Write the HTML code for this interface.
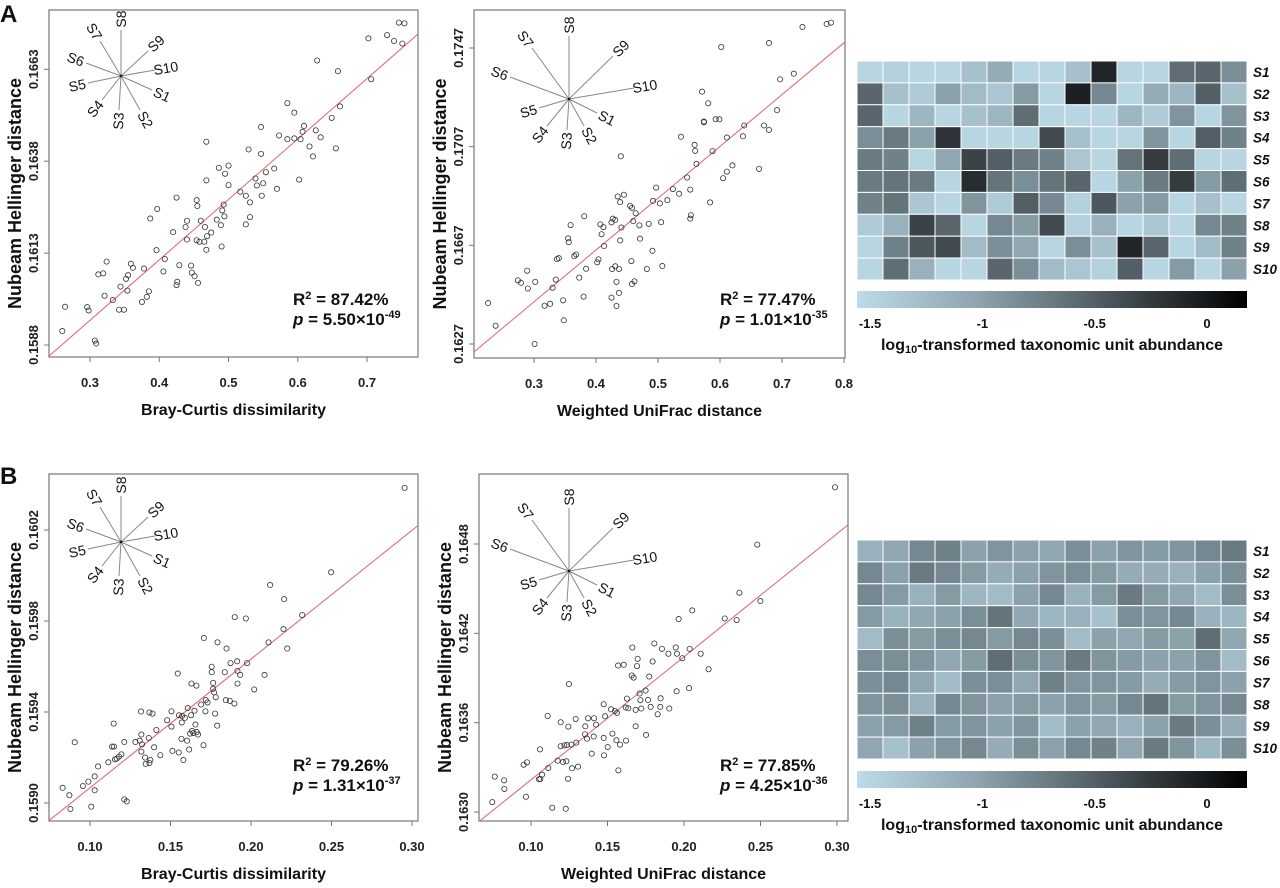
<!DOCTYPE html>
<html><head><meta charset="utf-8">
<style>
html,body{margin:0;padding:0;background:#fff;}
svg{display:block;font-family:"Liberation Sans",Arial,sans-serif;}
</style></head>
<body>
<svg id="fig" width="1280" height="888" viewBox="0 0 1280 888" xmlns="http://www.w3.org/2000/svg"></svg>
<script>
// ---------- DATA ----------
const a1X=[0.746,0.754,0.729,0.702,0.739,0.751,0.628,0.658,0.706,0.585,0.661,0.595,0.649,0.547,0.609,0.607,0.626,0.573,0.633,0.585,0.595,0.604,0.468,0.617,0.529,0.655,0.622,0.547,0.486,0.500,0.495,0.566,0.554,0.539,0.468,0.602,0.500,0.550,0.541,0.570,0.517,0.525,0.548,0.425,0.454,0.531,0.455,0.493,0.397,0.491,0.387,0.494,0.483,0.440,0.460,0.531,0.438,0.466,0.489,0.525,0.420,0.475,0.469,0.440,0.454,0.458,0.465,0.468,0.490,0.396,0.408,0.324,0.359,0.362,0.378,0.429,0.446,0.406,0.312,0.319,0.355,0.352,0.447,0.451,0.426,0.425,0.456,0.344,0.354,0.385,0.321,0.333,0.382,0.375,0.264,0.296,0.298,0.342,0.349,0.260,0.307,0.309];
const a1Y=[0.16757,0.16755,0.16723,0.16714,0.16707,0.16700,0.16654,0.16625,0.16603,0.16538,0.16529,0.16512,0.16498,0.16473,0.16476,0.16460,0.16464,0.16450,0.16445,0.16440,0.16442,0.16440,0.16433,0.16420,0.16412,0.16415,0.16393,0.16400,0.16362,0.16368,0.16346,0.16360,0.16350,0.16333,0.16328,0.16330,0.16315,0.16320,0.16314,0.16305,0.16297,0.16286,0.16286,0.16281,0.16274,0.16268,0.16258,0.16262,0.16250,0.16246,0.16224,0.16230,0.16221,0.16218,0.16218,0.16228,0.16201,0.16201,0.16206,0.16208,0.16187,0.16186,0.16176,0.16167,0.16165,0.16161,0.16161,0.16139,0.16148,0.16138,0.16114,0.16107,0.16101,0.16090,0.16088,0.16097,0.16096,0.16080,0.16072,0.16075,0.16070,0.16060,0.16077,0.16067,0.16052,0.16043,0.16049,0.16039,0.16028,0.16026,0.16014,0.16002,0.16011,0.15997,0.15984,0.15983,0.15974,0.15976,0.15976,0.15918,0.15892,0.15884];
const a1Fit=[0.15454,0.01644];
const a1XTicks=[0.3,0.4,0.5,0.6,0.7];
const a1YTicks=[0.1588,0.1613,0.1638,0.1663];

const a2X=[0.779,0.772,0.733,0.602,0.679,0.719,0.697,0.571,0.581,0.692,0.574,0.574,0.593,0.599,0.639,0.671,0.679,0.537,0.611,0.637,0.559,0.560,0.588,0.440,0.562,0.620,0.611,0.663,0.605,0.547,0.524,0.552,0.534,0.497,0.492,0.515,0.503,0.584,0.435,0.445,0.439,0.455,0.458,0.464,0.553,0.552,0.460,0.470,0.485,0.505,0.359,0.407,0.425,0.427,0.431,0.441,0.412,0.381,0.409,0.413,0.439,0.355,0.356,0.471,0.491,0.337,0.340,0.365,0.368,0.404,0.402,0.457,0.482,0.507,0.384,0.426,0.431,0.437,0.289,0.373,0.335,0.274,0.279,0.302,0.290,0.330,0.433,0.458,0.462,0.437,0.380,0.425,0.226,0.317,0.326,0.347,0.433,0.238,0.348,0.301];
const a2Y=[0.17573,0.17567,0.17555,0.17474,0.17490,0.17366,0.17343,0.17293,0.17246,0.17218,0.17172,0.17169,0.17181,0.17181,0.17156,0.17156,0.17138,0.17110,0.17107,0.17112,0.17077,0.17053,0.17052,0.17031,0.17000,0.16994,0.16969,0.16980,0.16942,0.16945,0.16898,0.16896,0.16879,0.16904,0.16850,0.16853,0.16840,0.16844,0.16868,0.16875,0.16845,0.16830,0.16822,0.16800,0.16792,0.16778,0.16768,0.16751,0.16757,0.16764,0.16752,0.16755,0.16763,0.16778,0.16773,0.16742,0.16744,0.16788,0.16715,0.16667,0.16690,0.16698,0.16683,0.16697,0.16648,0.16614,0.16618,0.16626,0.16633,0.16613,0.16601,0.16606,0.16574,0.16586,0.16575,0.16574,0.16585,0.16574,0.16567,0.16539,0.16531,0.16528,0.16518,0.16522,0.16495,0.16498,0.16522,0.16513,0.16524,0.16477,0.16462,0.16458,0.16436,0.16425,0.16433,0.16447,0.16424,0.16344,0.16366,0.16270];
const a2Fit=[0.15811,0.0210];
const a2XTicks=[0.3,0.4,0.5,0.6,0.7,0.8];
const a2YTicks=[0.1627,0.1667,0.1707,0.1747];

const b1X=[0.2954,0.2498,0.2119,0.2206,0.2318,0.1899,0.1968,0.2202,0.1707,0.1792,0.2109,0.1848,0.2225,0.1756,0.1873,0.1914,0.1976,0.1545,0.1756,0.1837,0.1916,0.1933,0.2084,0.1630,0.1661,0.1916,0.1765,0.2020,0.1765,0.1771,0.1781,0.1719,0.1730,0.1844,0.1868,0.1897,0.1690,0.1607,0.1317,0.1369,0.1388,0.1506,0.1649,0.1717,0.1777,0.1628,0.1553,0.1572,0.1589,0.1479,0.1570,0.1655,0.1790,0.1506,0.1412,0.1634,0.1663,0.1622,0.1642,0.1671,0.1147,0.1319,0.1365,0.1568,0.1603,0.1213,0.1282,0.1309,0.1323,0.0905,0.1137,0.1149,0.1398,0.1705,0.1616,0.1319,0.1512,0.1551,0.1437,0.1195,0.1180,0.1166,0.1155,0.1342,0.1375,0.1580,0.1114,0.1346,0.1369,0.1050,0.0990,0.0956,0.1029,0.0830,0.0872,0.1029,0.1213,0.1228,0.1008,0.0878];
const b1Y=[0.160385,0.160014,0.159958,0.159896,0.159826,0.159817,0.159811,0.159764,0.159725,0.159706,0.159706,0.159679,0.159679,0.159599,0.159615,0.159623,0.159615,0.159569,0.159575,0.159575,0.159581,0.159563,0.159563,0.159525,0.159516,0.159525,0.159528,0.159499,0.159502,0.159486,0.159465,0.159452,0.159442,0.159452,0.159449,0.159437,0.159433,0.159417,0.159402,0.159398,0.159393,0.159403,0.159406,0.159403,0.159393,0.159386,0.159386,0.159383,0.159374,0.159364,0.159354,0.159345,0.159340,0.159336,0.159321,0.159317,0.159312,0.159305,0.159308,0.159301,0.159349,0.159301,0.159286,0.159282,0.159274,0.159268,0.159268,0.159274,0.159258,0.159267,0.159248,0.159248,0.159245,0.159254,0.159235,0.159226,0.159229,0.159222,0.159210,0.159214,0.159204,0.159195,0.159192,0.159200,0.159189,0.159189,0.159179,0.159172,0.159176,0.159161,0.159094,0.159075,0.159117,0.159067,0.159034,0.159056,0.159016,0.159007,0.158984,0.158974];
const b1Fit=[0.158501,0.005658];
const b1XTicks=[0.10,0.15,0.20,0.25,0.30];
const b1YTicks=[0.1590,0.1594,0.1598,0.1602];

const b2X=[0.2987,0.2479,0.2362,0.2499,0.2054,0.1965,0.2266,0.2344,0.1806,0.1662,0.1856,0.1946,0.2037,0.1898,0.1954,0.2109,0.1697,0.1989,0.1569,0.1606,0.1693,0.1795,0.2161,0.1658,0.1671,0.1773,0.1248,0.1749,0.1710,0.2033,0.1627,0.1715,0.1765,0.1847,0.1952,0.1475,0.1523,0.1636,0.1684,0.1721,0.1782,0.1845,0.1904,0.1828,0.1619,0.1549,0.1109,0.1292,0.1373,0.1412,0.1484,0.1562,0.1194,0.1355,0.1425,0.1684,0.1244,0.1532,0.1752,0.1353,0.1366,0.1410,0.1475,0.1558,0.1621,0.1582,0.1194,0.1218,0.1235,0.1264,0.1296,0.1501,0.1059,0.1397,0.1477,0.1174,0.1209,0.1231,0.0952,0.0974,0.1113,0.1268,0.1307,0.1072,0.1061,0.1052,0.1571,0.1242,0.0763,0.0824,0.0826,0.0967,0.0747,0.1139,0.1227];
const b2Y=[0.165181,0.164796,0.164473,0.164417,0.164354,0.164296,0.164300,0.164289,0.164132,0.164105,0.164096,0.164105,0.164096,0.164063,0.164063,0.164063,0.164029,0.164033,0.163984,0.163989,0.163980,0.164011,0.163959,0.163917,0.163903,0.163910,0.163859,0.163816,0.163796,0.163832,0.163762,0.163751,0.163753,0.163764,0.163811,0.163724,0.163690,0.163697,0.163686,0.163695,0.163706,0.163706,0.163695,0.163657,0.163702,0.163679,0.163646,0.163625,0.163630,0.163630,0.163643,0.163666,0.163603,0.163576,0.163587,0.163576,0.163574,0.163527,0.163518,0.163522,0.163493,0.163507,0.163498,0.163482,0.163480,0.163453,0.163442,0.163448,0.163450,0.163453,0.163466,0.163437,0.163421,0.163392,0.163381,0.163345,0.163336,0.163341,0.163318,0.163334,0.163296,0.163294,0.163305,0.163251,0.163222,0.163220,0.163280,0.163224,0.163238,0.163213,0.163155,0.163103,0.163067,0.163029,0.163022];
const b2Fit=[0.162391,0.008259];
const b2XTicks=[0.10,0.15,0.20,0.25,0.30];
const b2YTicks=[0.1630,0.1636,0.1642,0.1648];

const sampleNames=["S1","S2","S3","S4","S5","S6","S7","S8","S9","S10"];
const heatA=[
[-1.5,-1.45,-1.5,-1.5,-1.3,-1.1,-1.5,-1.5,-1.3,-0.1,-1.5,-1.5,-0.6,-0.55,-0.85],
[-0.55,-1.3,-1.4,-1.0,-1.25,-1.35,-0.95,-1.5,-0.05,-0.8,-1.5,-1.1,-1.2,-0.5,-1.3],
[-0.55,-1.5,-1.2,-1.5,-1.3,-1.2,-0.6,-1.5,-1.5,-1.5,-1.2,-1.4,-0.9,-1.5,-0.9],
[-0.85,-0.7,-1.0,-0.2,-1.5,-1.5,-1.5,-0.35,-1.3,-1.5,-1.5,-0.9,-1.5,-0.5,-0.75],
[-0.7,-0.75,-1.5,-1.05,-0.3,-0.5,-0.7,-0.75,-1.35,-1.5,-0.65,-0.25,-0.6,-1.5,-1.5],
[-0.7,-0.65,-0.7,-1.5,-0.15,-0.65,-0.85,-0.65,-0.55,-1.5,-1.0,-0.7,-0.25,-0.95,-0.6],
[-0.75,-0.65,-1.35,-1.5,-0.9,-1.4,-0.5,-0.8,-1.45,-0.45,-1.0,-0.95,-1.5,-1.3,-1.5],
[-1.4,-1.15,-0.3,-0.55,-1.5,-0.8,-0.95,-0.35,-1.45,-1.15,-1.5,-1.35,-1.5,-0.8,-0.75],
[-1.5,-0.75,-0.45,-0.35,-1.25,-0.85,-1.05,-1.5,-0.85,-1.3,-0.1,-0.55,-1.5,-1.25,-0.75],
[-1.5,-0.6,-1.15,-1.5,-1.5,-0.55,-0.85,-1.25,-1.35,-1.45,-0.5,-1.5,-0.95,-1.5,-1.0]];
const heatB=[
[-1.15,-1.05,-0.8,-0.75,-1.0,-0.9,-1.0,-1.05,-0.85,-1.0,-0.9,-0.95,-0.9,-0.8,-0.7],
[-0.8,-1.0,-0.7,-0.8,-0.95,-1.1,-1.0,-0.9,-0.85,-0.95,-1.1,-1.1,-1.15,-1.0,-0.85],
[-0.8,-0.95,-1.15,-0.95,-1.2,-1.25,-1.0,-0.8,-1.15,-0.95,-0.7,-0.95,-1.05,-1.25,-0.85],
[-0.95,-1.15,-1.05,-1.0,-0.85,-0.65,-1.05,-1.2,-1.15,-1.3,-0.85,-0.9,-0.8,-1.15,-1.2],
[-1.25,-0.85,-0.95,-0.85,-0.8,-0.95,-0.8,-0.85,-1.25,-1.0,-1.05,-0.95,-1.0,-0.6,-1.05],
[-0.85,-0.85,-0.9,-1.05,-0.95,-0.6,-0.85,-0.9,-0.7,-0.9,-0.95,-1.0,-1.0,-0.9,-1.25],
[-0.85,-0.8,-1.05,-1.25,-0.85,-0.85,-1.05,-0.75,-0.9,-0.9,-0.95,-1.1,-0.95,-0.9,-1.0],
[-0.9,-0.85,-1.15,-0.8,-0.9,-1.0,-0.95,-1.0,-0.9,-0.95,-0.8,-0.65,-0.95,-0.9,-0.8],
[-1.0,-0.95,-0.75,-0.95,-0.9,-1.0,-0.9,-1.25,-1.0,-1.05,-1.15,-1.0,-0.7,-0.85,-1.1],
[-1.05,-1.3,-1.0,-0.9,-0.8,-1.1,-0.85,-1.0,-0.8,-0.75,-1.05,-0.7,-0.9,-1.2,-0.85]];
const cbTicks=[-1.5,-1,-0.5,0];
const cbTickLabels=["-1.5","-1","-0.5","0"];

// ---------- DRAW ----------
const NS="http://www.w3.org/2000/svg";
const svg=document.getElementById('fig');
function mk(tag,attrs,parent){const e=document.createElementNS(NS,tag);for(const k in attrs)e.setAttribute(k,attrs[k]);(parent||svg).appendChild(e);return e;}
function txt(s,attrs,parent){const e=mk('text',attrs,parent);e.textContent=s;return e;}

const starSmall=[[31,14],[19,34],[-2,34],[-19,24],[-33,7],[-35,-13],[-21,-35],[0,-46],[27,-25],[34,-6]];
const starLarge=[[28,14],[15,27],[-2,31],[-22,27],[-30,9],[-59,-22],[-37,-51],[0,-63],[44,-43],[65,-11]];

function panel(id,fx,fy,fw,fh,xd,yd,xs,ys,fit,xt,yt,xdec,xtitle,r2,pv,pexp,sc,star){
  const g=mk('g',{});
  
  
  const X=v=>fx+(v-xd[0])/(xd[1]-xd[0])*fw;
  const Y=v=>fy+fh-(v-yd[0])/(yd[1]-yd[0])*fh;
  const clip=mk('clipPath',{id:'clip-'+id},g);
  mk('rect',{x:fx,y:fy,width:fw,height:fh},clip);
  const fr=mk('rect',{x:fx,y:fy,width:fw,height:fh,fill:'none',stroke:'#777','stroke-width':1.2},g);
  
  
  xt.forEach(v=>{
    const t=mk('line',{x1:X(v),x2:X(v),y1:fy+fh,y2:fy+fh+5,stroke:'#777'},g);
    
    
    const l=txt(v.toFixed(xdec),{x:X(v),y:fy+fh+30,'text-anchor':'middle','font-size':13,'font-weight':'bold',fill:'#222'},g);
    
    
  });
  yt.forEach(v=>{
    const t=mk('line',{x1:fx-5,x2:fx,y1:Y(v),y2:Y(v),stroke:'#777'},g);
    
    
    const l=txt(v.toFixed(4),{x:0,y:0,'text-anchor':'middle','font-size':13,'font-weight':'bold',fill:'#222',transform:`translate(${fx-11},${Y(v)}) rotate(-90)`},g);
    
    
  });
  const yl=txt('Nubeam Hellinger distance',{x:0,y:0,'text-anchor':'middle','font-size':18,'font-weight':'bold',fill:'#111',transform:`translate(${fx-28},${fy+fh/2+10}) rotate(-90)`},g);
  
  
  const xl=txt(xtitle,{x:fx+fw/2,y:fy+fh+58,'text-anchor':'middle','font-size':16,'font-weight':'bold',fill:'#111'},g);
  
  
  const x0=xd[0],x1=xd[1];
  const ln=mk('line',{x1:X(x0),y1:Y(fit[0]+fit[1]*x0),x2:X(x1),y2:Y(fit[0]+fit[1]*x1),stroke:'#e07070','stroke-width':1.1,'clip-path':`url(#clip-${id})`},g);
  
  
  xs.forEach((v,i)=>{
    const c=mk('circle',{cx:X(v),cy:Y(ys[i]),r:2.6,fill:'none',stroke:'#333','stroke-width':0.8},g);
    
    
  });
  const sg=mk('g',{},g);
  
  
  star.vec.forEach((d,i)=>{
    mk('line',{x1:star.cx,y1:star.cy,x2:star.cx+d[0],y2:star.cy+d[1],stroke:'#888','stroke-width':1},sg);
    const len=Math.hypot(d[0],d[1]);
    const ex=star.cx+d[0]*(len+11)/len, ey=star.cy+d[1]*(len+11)/len;
    let a=Math.atan2(d[1],d[0])*180/Math.PI;
    if(a>=90)a-=180; if(a<-90)a+=180;
    const l=txt(sampleNames[i],{x:0,y:0,'text-anchor':'middle','dominant-baseline':'central','font-size':14,fill:'#111',transform:`translate(${ex},${ey}) rotate(${a})`},sg);
    
    
  });
  mk('circle',{cx:star.cx,cy:star.cy,r:1.2,fill:'#111'},sg);
  const st=txt('',{x:sc[0],y:sc[1],'font-size':17,'font-weight':'bold',fill:'#111'},g);
  
  
  st.innerHTML='R<tspan font-size="11" dy="-6">2</tspan><tspan dy="6"> = '+r2+'</tspan>';
  const pt=txt('',{x:sc[0],y:sc[1]+20,'font-size':17,'font-weight':'bold',fill:'#111'},g);
  
  
  pt.innerHTML='<tspan font-style="italic">p</tspan> = '+pv+'×10<tspan font-size="11" dy="-7">'+pexp+'</tspan>';
}

panel('a1',49,10,369,347,[0.2408,0.7736],[0.158474,0.167913],a1X,a1Y,a1Fit,a1XTicks,a1YTicks,1,'Bray-Curtis dissimilarity','87.42%','5.50','-49',[293,305],{cx:121,cy:76,vec:starSmall});
panel('a2',474,10,371,348,[0.2032,0.8016],[0.162132,0.17624],a2X,a2Y,a2Fit,a2XTicks,a2YTicks,1,'Weighted UniFrac distance','77.47%','1.01','-35',[720,305],{cx:569,cy:99,vec:starLarge});
panel('b1',49,474,369,347,[0.07453,0.30373],[0.158921,0.160446],b1X,b1Y,b1Fit,b1XTicks,b1YTicks,2,'Bray-Curtis dissimilarity','79.26%','1.31','-37',[293,771],{cx:121,cy:542,vec:starSmall});
panel('b2',479,474,369,347,[0.06601,0.30719],[0.16294,0.16527],b2X,b2Y,b2Fit,b2XTicks,b2YTicks,2,'Weighted UniFrac distance','77.85%','4.25','-36',[720,771],{cx:569,cy:571,vec:starLarge});

const pa=txt('A',{x:0,y:22,'font-size':24,'font-weight':'bold',fill:'#111'});


const pb=txt('B',{x:0,y:484,'font-size':24,'font-weight':'bold',fill:'#111'});



const stops=[[0,[189,219,232]],[0.3,[143,166,176]],[0.55,[95,110,117]],[0.8,[42,48,52]],[1,[0,0,0]]];
const cMin=-1.558,cMax=0.178;
function cmap(v){
  let t=(v-cMin)/(cMax-cMin); t=Math.max(0,Math.min(1,t));
  for(let i=1;i<stops.length;i++){
    if(t<=stops[i][0]){const a=stops[i-1],b=stops[i];const f=(t-a[0])/(b[0]-a[0]);
      const c=a[1].map((x,j)=>Math.round(x+(b[1][j]-x)*f));return `rgb(${c[0]},${c[1]},${c[2]})`;}
  }
  return '#000';
}
let gradN=0;
function heat(id,data,top,cbTop){
  const g=mk('g',{});
  
  
  const x0=857,w=390,h=219,cols=data[0].length,rows=data.length;
  const cw=w/cols,ch=h/rows;
  data.forEach((row,r)=>{
    row.forEach((v,c)=>{
      const rc=mk('rect',{x:x0+c*cw,y:top+r*ch,width:cw,height:ch,fill:cmap(v),stroke:'#fff','stroke-width':1},g);
      
      
    });
    const l=txt(sampleNames[r],{x:1253,y:top+r*ch+ch/2+5,'font-size':13.5,'font-weight':'bold','font-style':'italic',fill:'#111'},g);
    
    
  });
  const gid='grad'+(gradN++);
  const defs=mk('defs',{},g);
  const lg=mk('linearGradient',{id:gid,x1:0,x2:1,y1:0,y2:0},defs);
  stops.forEach(s=>mk('stop',{offset:s[0],'stop-color':`rgb(${s[1].join(',')})`},lg));
  const cb=mk('rect',{x:x0,y:cbTop,width:w,height:17,fill:`url(#${gid})`},g);
  
  
  cbTicks.forEach((v,i)=>{
    const l=txt(cbTickLabels[i],{x:x0+(v-cMin)/(cMax-cMin)*w,y:cbTop+37,'text-anchor':'middle','font-size':13,'font-weight':'bold',fill:'#111'},g);
    
    
  });
  const t=txt('',{x:1052,y:cbTop+59,'text-anchor':'middle','font-size':16,'font-weight':'bold',fill:'#111'},g);
  
  
  t.innerHTML='log<tspan font-size="11" dy="3">10</tspan><tspan dy="-3">-transformed taxonomic unit abundance</tspan>';
}
heat('a',heatA,61,291);
heat('b',heatB,540,771);
</script>
</body></html>
